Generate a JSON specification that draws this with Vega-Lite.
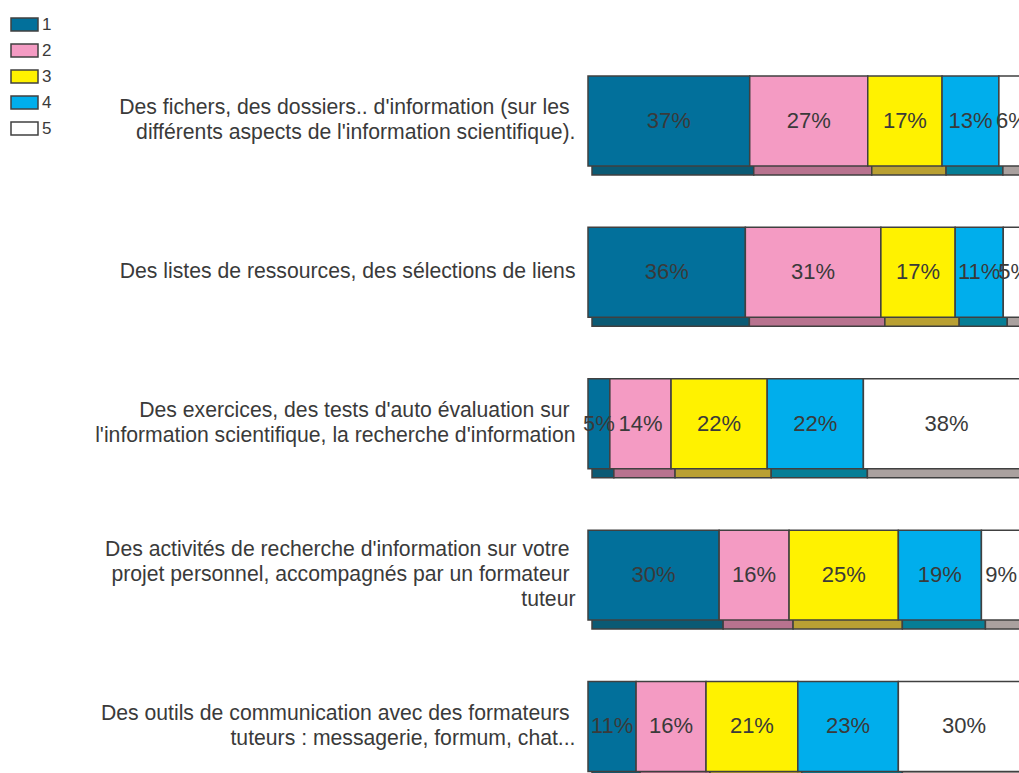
{
  "$schema": "https://vega.github.io/schema/vega-lite/v6.json",
  "autosize": {"type": "none"},
  "padding": {"left": 588, "top": 0, "right": 0, "bottom": 0},
  "width": 431,
  "height": 773,
  "background": "#ffffff",
  "config": {
    "view": {"stroke": null},
    "font": "Liberation Sans"
  },
  "data": {
    "values": [
      {"q": "Des fichers, des dossiers.. d'information (sur les\u00a0\u200b|différents aspects de l'information scientifique).", "note": "1", "pct": 0.37},
      {"q": "Des fichers, des dossiers.. d'information (sur les\u00a0\u200b|différents aspects de l'information scientifique).", "note": "2", "pct": 0.27},
      {"q": "Des fichers, des dossiers.. d'information (sur les\u00a0\u200b|différents aspects de l'information scientifique).", "note": "3", "pct": 0.17},
      {"q": "Des fichers, des dossiers.. d'information (sur les\u00a0\u200b|différents aspects de l'information scientifique).", "note": "4", "pct": 0.13},
      {"q": "Des fichers, des dossiers.. d'information (sur les\u00a0\u200b|différents aspects de l'information scientifique).", "note": "5", "pct": 0.06},
      {"q": "Des listes de ressources, des sélections de liens", "note": "1", "pct": 0.36},
      {"q": "Des listes de ressources, des sélections de liens", "note": "2", "pct": 0.31},
      {"q": "Des listes de ressources, des sélections de liens", "note": "3", "pct": 0.17},
      {"q": "Des listes de ressources, des sélections de liens", "note": "4", "pct": 0.11},
      {"q": "Des listes de ressources, des sélections de liens", "note": "5", "pct": 0.05},
      {"q": "Des exercices, des tests d'auto évaluation sur\u00a0\u200b|l'information scientifique, la recherche d'information", "note": "1", "pct": 0.05},
      {"q": "Des exercices, des tests d'auto évaluation sur\u00a0\u200b|l'information scientifique, la recherche d'information", "note": "2", "pct": 0.14},
      {"q": "Des exercices, des tests d'auto évaluation sur\u00a0\u200b|l'information scientifique, la recherche d'information", "note": "3", "pct": 0.22},
      {"q": "Des exercices, des tests d'auto évaluation sur\u00a0\u200b|l'information scientifique, la recherche d'information", "note": "4", "pct": 0.22},
      {"q": "Des exercices, des tests d'auto évaluation sur\u00a0\u200b|l'information scientifique, la recherche d'information", "note": "5", "pct": 0.38},
      {"q": "Des activités de recherche d'information sur votre\u00a0\u200b|projet personnel, accompagnés par un formateur\u00a0\u200b|tuteur", "note": "1", "pct": 0.30},
      {"q": "Des activités de recherche d'information sur votre\u00a0\u200b|projet personnel, accompagnés par un formateur\u00a0\u200b|tuteur", "note": "2", "pct": 0.16},
      {"q": "Des activités de recherche d'information sur votre\u00a0\u200b|projet personnel, accompagnés par un formateur\u00a0\u200b|tuteur", "note": "3", "pct": 0.25},
      {"q": "Des activités de recherche d'information sur votre\u00a0\u200b|projet personnel, accompagnés par un formateur\u00a0\u200b|tuteur", "note": "4", "pct": 0.19},
      {"q": "Des activités de recherche d'information sur votre\u00a0\u200b|projet personnel, accompagnés par un formateur\u00a0\u200b|tuteur", "note": "5", "pct": 0.09},
      {"q": "Des outils de communication avec des formateurs\u00a0\u200b|tuteurs : messagerie, formum, chat...", "note": "1", "pct": 0.11},
      {"q": "Des outils de communication avec des formateurs\u00a0\u200b|tuteurs : messagerie, formum, chat...", "note": "2", "pct": 0.16},
      {"q": "Des outils de communication avec des formateurs\u00a0\u200b|tuteurs : messagerie, formum, chat...", "note": "3", "pct": 0.21},
      {"q": "Des outils de communication avec des formateurs\u00a0\u200b|tuteurs : messagerie, formum, chat...", "note": "4", "pct": 0.23},
      {"q": "Des outils de communication avec des formateurs\u00a0\u200b|tuteurs : messagerie, formum, chat...", "note": "5", "pct": 0.30}
    ]
  },
  "transform": [
    {"stack": "pct", "groupby": ["q"], "sort": [{"field": "note", "order": "ascending"}], "as": ["x0", "x1"]},
    {"calculate": "(datum.x0 + datum.x1) / 2", "as": "xmid"}
  ],
  "encoding": {
    "y": {
      "field": "q",
      "type": "nominal",
      "sort": null,
      "title": null,
      "scale": {"paddingInner": 0.406, "paddingOuter": 0.256, "align": 0.98},
      "axis": {
        "orient": "left",
        "ticks": false,
        "domain": false,
        "labelExpr": "split(datum.label, '|')",
        "labelAlign": "right",
        "labelBaseline": "middle",
        "labelPadding": 13,
        "labelLimit": 700,
        "labelFontSize": 21.2,
        "labelLineHeight": 25,
        "labelColor": "#3a3a3a",
        "labelFont": "Liberation Sans",
        "labelOffset": {
          "condition": [
            {"test": "length(split(datum.value, '|')) == 3", "value": -25},
            {"test": "length(split(datum.value, '|')) == 2", "value": -12.5}
          ],
          "value": 0
        }
      }
    }
  },
  "layer": [
    {
      "mark": {"type": "bar", "xOffset": 4, "x2Offset": 4, "yOffset": 9, "y2Offset": 9, "stroke": "#404040", "strokeWidth": 1.5, "clip": false},
      "encoding": {
        "x": {"field": "x0", "type": "quantitative", "scale": {"domain": [0, 0.986], "nice": false, "zero": true}, "axis": null},
        "x2": {"field": "x1"},
        "color": {
          "field": "note",
          "type": "nominal",
          "scale": {"domain": ["1", "2", "3", "4", "5"], "range": ["#0b5a74", "#b8738f", "#b9a033", "#067e96", "#aaa19f"]},
          "legend": null
        }
      }
    },
    {
      "mark": {"type": "bar", "stroke": "#404040", "strokeWidth": 1.5, "clip": false},
      "encoding": {
        "x": {"field": "x0", "type": "quantitative"},
        "x2": {"field": "x1"},
        "color": {
          "field": "note",
          "type": "nominal",
          "scale": {"domain": ["1", "2", "3", "4", "5"], "range": ["#02709b", "#f49bc3", "#fff200", "#00aeec", "#ffffff"]},
          "legend": {
            "title": null,
            "orient": "none",
            "legendX": -578,
            "legendY": 10,
            "padding": 0,
            "symbolType": "M-1,-0.48H1V0.48H-1Z",
            "symbolSize": 729,
            "symbolStrokeColor": "#404040",
            "symbolStrokeWidth": 1.5,
            "symbolOpacity": 1,
            "labelFontSize": 17,
            "labelColor": "#3a3a3a",
            "labelFont": "Liberation Sans",
            "labelOffset": 3,
            "rowPadding": 2
          }
        }
      }
    },
    {
      "mark": {"type": "text", "fontSize": 22, "color": "#3a3a3a", "align": "center", "baseline": "middle", "clip": false},
      "encoding": {
        "x": {"field": "xmid", "type": "quantitative"},
        "text": {"field": "pct", "type": "quantitative", "format": ".0%"}
      }
    }
  ],
  "resolve": {"scale": {"color": "independent"}}
}
